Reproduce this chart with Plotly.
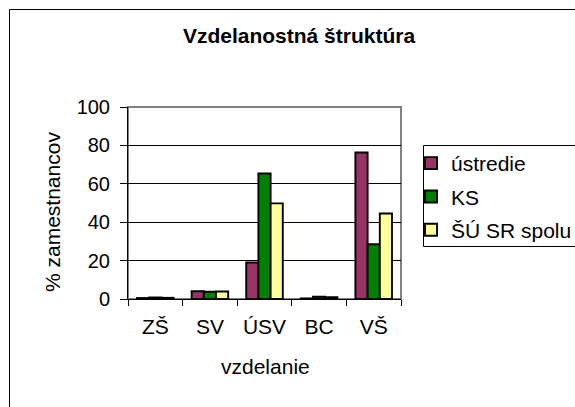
import plotly.graph_objects as go

categories = ["ZŠ", "SV", "ÚSV", "BC", "VŠ"]
ustredie = [0.5, 4.0, 19.0, 0.3, 76.3]
ks = [0.8, 3.8, 65.4, 1.2, 28.5]
su_sr_spolu = [0.6, 3.9, 49.8, 1.0, 44.5]
series_names = ["ústredie", "KS", "ŠÚ SR spolu"]
series_colors = ["#993366", "#008000", "#FFFF99"]
y_ticks = [0, 20, 40, 60, 80, 100]

FONT = "Arial, 'Liberation Sans', sans-serif"

fig = go.Figure()
for i, (name, vals, col) in enumerate(zip(series_names, [ustredie, ks, su_sr_spolu], series_colors)):
    fig.add_trace(go.Bar(
        x=categories, y=vals, name=name, legendgroup=f"g{i}",
        marker=dict(color=col, line=dict(color="black", width=1.9)),
    ))

L, R, T, B = 128, 174, 107, 108
W, H = 575, 407
pw = W - L - R
ph = H - T - B

def px_x(x):
    return (x - L) / pw

def px_y(y):
    return (H - B - y) / ph

shapes = [
    # plot area gray frame
    dict(type="rect", xref="paper", yref="paper", x0=0, x1=1, y0=0, y1=1,
         line=dict(color="#808080", width=2), layer="below"),
    # outer chart border (left and top)
    dict(type="line", xref="paper", yref="paper", x0=px_x(9.5), x1=px_x(9.5), y0=px_y(9.5), y1=px_y(420),
         line=dict(color="black", width=1)),
    dict(type="line", xref="paper", yref="paper", x0=px_x(9.5), x1=px_x(590), y0=px_y(9.5), y1=px_y(9.5),
         line=dict(color="black", width=1)),
    # legend frame
    dict(type="rect", xref="paper", yref="paper", x0=px_x(423.5), x1=px_x(590), y0=px_y(145.5), y1=px_y(246.5),
         line=dict(color="black", width=1), fillcolor="rgba(0,0,0,0)"),
]

annotations = [
    dict(text="% zamestnancov", xref="paper", yref="paper", x=px_x(52), y=px_y(212),
         xanchor="center", yanchor="middle", textangle=-90, showarrow=False, font=dict(size=21)),
    dict(text="vzdelanie", xref="paper", yref="paper", x=px_x(265), y=px_y(366),
         xanchor="center", yanchor="middle", showarrow=False, font=dict(size=21)),
]

fig.update_layout(
    width=W, height=H,
    margin=dict(l=L, r=R, t=T, b=B, autoexpand=False),
    paper_bgcolor="white", plot_bgcolor="white",
    font=dict(family=FONT, size=21, color="black"),
    title=dict(text="<b>Vzdelanostná štruktúra</b>", xref="container", x=299 / W, xanchor="center",
               yref="container", y=1 - 36 / H, yanchor="middle", font=dict(size=21)),
    barmode="group", bargap=0.33, bargroupgap=0,
    showlegend=True,
    legend=dict(x=px_x(411), xanchor="left", y=px_y(143), yanchor="top",
                borderwidth=0, bgcolor="rgba(0,0,0,0)",
                font=dict(size=21), tracegroupgap=3, traceorder="grouped"),
    shapes=shapes,
    annotations=annotations,
    xaxis=dict(
        tickson="boundaries", ticks="outside", ticklen=6, tickcolor="black", tickwidth=1,
        showline=True, linecolor="black", linewidth=1, tickangle=0,
        showgrid=False, ticklabelstandoff=9,
        automargin=False, tickfont=dict(size=21),
    ),
    yaxis=dict(
        range=[0, 100], tickvals=y_ticks, ticks="outside", ticklen=7, tickcolor="black",
        showline=True, linecolor="black", linewidth=1,
        showgrid=True, gridcolor="black", gridwidth=1, zeroline=False,
        ticklabelstandoff=6,
        automargin=False, tickfont=dict(size=20),
    ),
)

fig.write_html("out.html", config={"displayModeBar": False},
               post_script="document.body.style.margin='0px';")
